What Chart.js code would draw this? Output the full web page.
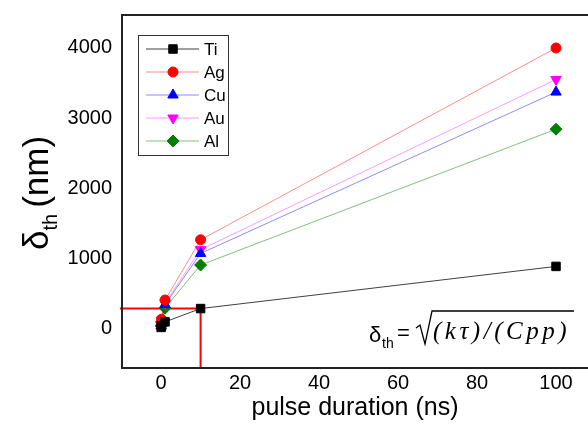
<!DOCTYPE html>
<html>
<head>
<meta charset="utf-8">
<script src="https://cdn.jsdelivr.net/npm/chart.js@4"></script>
<style>
  html, body { margin: 0; padding: 0; background: #fff; overflow: hidden; }
  #wrap { width: 588px; height: 424px; }
</style>
</head>
<body>
<div id="wrap"><canvas id="chart"></canvas></div>
<script>
const pulseNs = [0.01, 0.1, 1, 10, 100];
const tiValues = [9, 28, 88, 278, 880];
const agValues = [40, 126, 400, 1260, 4000];
const cuValues = [34, 106, 337, 1065, 3370];
const auValues = [36, 112, 355, 1120, 3550];
const alValues = [28, 90, 284, 900, 2840];
const xTicks = [0, 20, 40, 60, 80, 100];
const yTicks = [0, 1000, 2000, 3000, 4000];
const markX = 10;
const markY = 278;

const FONT = '"Liberation Sans", Arial, sans-serif';

function series(label, values, color, line, style, radius, rotation) {
  return {
    label,
    data: pulseNs.map((x, i) => ({ x, y: values[i] })),
    borderColor: line,
    backgroundColor: color,
    pointBackgroundColor: color,
    pointBorderColor: color,
    pointStyle: style,
    pointRadius: radius,
    pointRotation: rotation || 0,
    borderWidth: 1,
    showLine: true,
    tension: 0
  };
}

const datasets = [
  series('Ti', tiValues, '#000000', 'rgba(0,0,0,0.75)', 'rect', 6),
  series('Ag', agValues, '#ff0000', 'rgba(255,0,0,0.45)', 'circle', 5),
  series('Cu', cuValues, '#0000ff', 'rgba(0,0,255,0.45)', 'triangle', 6),
  series('Au', auValues, '#ff00ff', 'rgba(255,0,255,0.4)', 'triangle', 6, 180),
  series('Al', alValues, '#008000', 'rgba(0,128,0,0.5)', 'rectRot', 6)
];

function noPad(s) {
  s.paddingLeft = 0;
  s.paddingRight = 0;
  s.paddingTop = 0;
  s.paddingBottom = 0;
}

const decorations = {
  id: 'decorations',
  beforeDatasetsDraw(chart) {
    const { ctx, chartArea: a, scales } = chart;
    const px = scales.x.getPixelForValue(markX);
    const py = scales.y.getPixelForValue(markY);
    ctx.save();
    ctx.strokeStyle = '#ff0000';
    ctx.lineWidth = 2;
    ctx.beginPath();
    ctx.moveTo(a.left - 2, py);
    ctx.lineTo(px, py);
    ctx.lineTo(px, a.bottom);
    ctx.stroke();
    ctx.restore();
  },
  afterDraw(chart) {
    const { ctx, chartArea: a } = chart;
    ctx.save();
    // frame (right side is cut off in the original)
    ctx.strokeStyle = '#222';
    ctx.lineWidth = 2;
    ctx.beginPath();
    ctx.moveTo(a.right + 2, a.top);
    ctx.lineTo(a.left, a.top);
    ctx.lineTo(a.left, a.bottom);
    ctx.lineTo(a.right + 2, a.bottom);
    ctx.stroke();

    // y title
    ctx.fillStyle = '#000';
    ctx.translate(48, 250);
    ctx.rotate(-Math.PI / 2);
    ctx.textBaseline = 'alphabetic';
    ctx.textAlign = 'left';
    ctx.font = '35px ' + FONT;
    ctx.fillText('δ', 0, 0);
    let w = ctx.measureText('δ').width;
    ctx.font = '20px ' + FONT;
    ctx.fillText('th', w, 9);
    w += ctx.measureText('th').width + 6;
    ctx.font = '35px ' + FONT;
    ctx.fillText('(nm)', w, 0);
    ctx.setTransform(1, 0, 0, 1, 0, 0);

    // legend
    const lx = 138, ly = 35;
    ctx.strokeStyle = '#333';
    ctx.lineWidth = 1;
    ctx.strokeRect(lx + 0.5, ly + 0.5, 90, 120);
    chart.data.datasets.forEach((ds, i) => {
      const y = ly + 14 + i * 23;
      ctx.strokeStyle = ds.borderColor;
      ctx.lineWidth = 1;
      ctx.beginPath();
      ctx.moveTo(lx + 8, y);
      ctx.lineTo(lx + 61, y);
      ctx.stroke();
      ctx.fillStyle = ds.pointBackgroundColor;
      ctx.strokeStyle = ds.pointBorderColor;
      Chart.helpers.drawPoint(ctx, {
        pointStyle: ds.pointStyle,
        rotation: ds.pointRotation,
        radius: ds.pointRadius,
        borderWidth: 1
      }, lx + 35, y);
      ctx.fillStyle = '#000';
      ctx.font = '17px ' + FONT;
      ctx.textBaseline = 'middle';
      ctx.fillText(ds.label, lx + 66, y + 1);
    });

    // formula
    ctx.fillStyle = '#000';
    ctx.textBaseline = 'alphabetic';
    ctx.font = '22px ' + FONT;
    ctx.fillText('δ', 369, 342);
    ctx.font = '14px ' + FONT;
    ctx.fillText('th', 382, 348);
    ctx.font = '22px ' + FONT;
    ctx.fillText('=', 397, 340);
    ctx.strokeStyle = '#000';
    ctx.lineWidth = 1.3;
    ctx.beginPath();
    ctx.moveTo(416, 328);
    ctx.lineTo(420, 325);
    ctx.lineTo(425, 344);
    ctx.lineTo(432, 311);
    ctx.lineTo(574, 311);
    ctx.stroke();
    ctx.font = 'italic 25px "Liberation Serif", "Times New Roman", serif';
    ctx.letterSpacing = '3.5px';
    ctx.fillText('(kτ)/(Cpp)', 433, 339);
    ctx.restore();
  }
};

new Chart(document.getElementById('chart'), {
  type: 'scatter',
  data: { datasets },
  options: {
    responsive: true,
    maintainAspectRatio: false,
    animation: false,
    layout: { autoPadding: false, padding: { top: 15, right: 0, left: 0, bottom: 0 } },
    plugins: { legend: { display: false }, tooltip: { enabled: false } },
    scales: {
      x: {
        type: 'linear',
        min: -9.9,
        max: 108.1,
        grid: { display: false, drawTicks: false },
        border: { display: false },
        afterBuildTicks: s => { s.ticks = xTicks.map(v => ({ value: v })); },
        afterFit: s => { s.height = 56; noPad(s); },
        ticks: { color: '#000', font: { family: FONT, size: 20 }, padding: 3, maxRotation: 0, callback: v => String(v) },
        title: { display: true, text: 'pulse duration (ns)', color: '#000', font: { family: FONT, size: 25 }, padding: { top: 0, bottom: 1 } }
      },
      y: {
        type: 'linear',
        min: -571,
        max: 4471,
        grid: { display: false, drawTicks: false },
        border: { display: false },
        afterBuildTicks: s => { s.ticks = yTicks.map(v => ({ value: v })); },
        afterFit: s => { s.width = 122; noPad(s); },
        ticks: { color: '#000', font: { family: FONT, size: 20 }, padding: 10, callback: v => String(v) }
      }
    }
  },
  plugins: [decorations]
});
</script>
</body>
</html>
